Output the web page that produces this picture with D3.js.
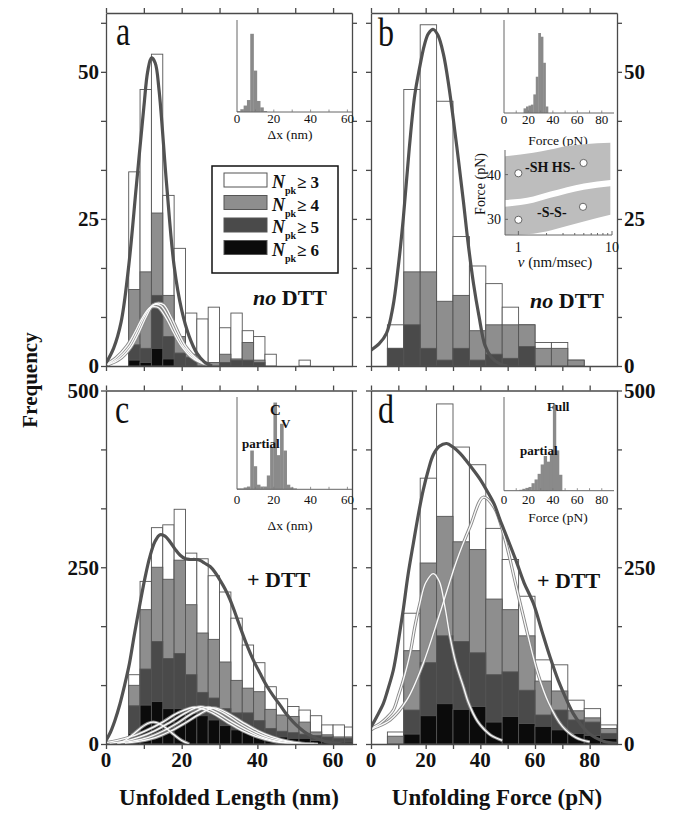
<!DOCTYPE html>
<html>
<head>
<meta charset="utf-8">
<script src="https://cdn.jsdelivr.net/npm/d3@7/dist/d3.min.js"></script>
<style>
html,body{margin:0;padding:0;background:#fff;}
svg{display:block;}
text{font-family:"Liberation Serif","Times New Roman",Times,serif;fill:#111;}
</style>
</head>
<body>
<svg id="chart" width="676" height="816" font-family="Liberation Serif, Times New Roman, serif"></svg>
<script>
// ================= DATA =================
// Panel a : unfolded length, no DTT (3-nm bins, left edges)
const lengthBinsA = [6, 9, 12, 15, 18, 21, 24, 27, 30, 33, 36, 39, 42, 45, 48, 51];
const npk3A = [33, 47, 53, 29, 20, 9, 8, 10, 6.5, 9, 6, 5, 2, 0, 0, 1];
const npk4A = [13, 16, 26, 12, 5, 2, 0.6, 0.6, 2, 1.2, 4, 1, 0, 0, 0, 0];
const npk5A = [3.6, 3, 12, 5, 2.2, 1.5, 0, 0, 0.6, 1, 1, 0.6, 0, 0, 0, 0];
const npk6A = [1, 0.6, 3, 1.2, 0, 0, 0, 0, 0, 0, 0, 0, 0, 0, 0, 0];
const fitA = [[0,0.5],[2,3],[4,7.5],[6,17],[8,30.5],[10,44],[11,50],[12,52.4],[13,51.5],[14,47],[16,31],[18,17],[20,9.5],[22,5],[24,2.2],[26,0.7],[28,0]];
const fitA1 = [[0,0.2],[3,1.2],[6,3.2],[8,5.5],[10,8.2],[12,10.2],[13.3,10.5],[14.6,10.2],[16.6,8.2],[18.6,5.5],[20.6,3.2],[23.6,1.2],[26.6,0.2]];
const fitA2 = [[0,0.3],[2.5,1.3],[5.5,3.4],[7.5,5.6],[9.5,8.1],[11.5,9.9],[12.7,10.1],[13.9,9.9],[15.9,8.1],[17.9,5.6],[19.9,3.4],[22.9,1.3],[25.9,0.3]];
const fitA3 = [[0.5,0.2],[3.5,1.1],[6.5,3.1],[8.5,5.4],[10.5,8.2],[12.5,10.4],[13.9,10.7],[15.3,10.4],[17.3,8.2],[19.3,5.4],[21.3,3.1],[24.3,1.1],[27.3,0.2]];

// Panel b : unfolding force, no DTT (6-pN bins)
const forceBinsB = [6, 12, 18, 24, 30, 36, 42, 48, 54, 60, 66, 72];
const npk3B = [7, 47, 58, 45, 22, 17, 14, 10, 7, 4, 4, 1];
const npk4B = [3, 16, 16, 11, 12, 6, 7, 7, 7, 3, 3, 1];
const npk5B = [3, 7, 3, 1, 3, 1, 2, 1.3, 3.3, 0, 0, 0];
const npk6B = [0, 0, 0, 0, 0, 0, 0, 0, 0, 0, 0, 0];
const fitB = [[0,2.7],[3,3.8],[5.7,5.6],[8,10],[10,17],[11.8,25],[14,37],[16,46],[17.7,50.5],[19.5,54.5],[21,56.5],[22.8,57.2],[24.5,56.2],[26.5,53],[28.5,47.5],[30.1,42],[32,35],[33.8,28],[35.5,21],[37.5,14],[39.5,8.5],[41.7,3.5],[44,1.5],[47,0.4],[50,0]];

// Panel c : unfolded length, + DTT
const lengthBinsC = [6, 9, 12, 15, 18, 21, 24, 27, 30, 33, 36, 39, 42, 45, 48, 51, 54, 57, 60, 63];
const npk3C = [98, 230, 306, 310, 332, 270, 262, 238, 215, 178, 140, 115, 81, 64, 53, 48, 40, 27, 27, 24];
const npk4C = [83, 190, 250, 233, 260, 197, 157, 148, 116, 90, 79, 74, 49, 41, 39, 31, 17, 13, 10, 10];
const npk5C = [54, 106, 145, 121, 128, 98, 73, 65, 50, 44, 44, 33, 22, 18, 16, 14, 12, 10, 8, 8];
const npk6C = [15, 55, 60, 50, 50, 45, 40, 34, 26, 20, 16, 14, 10, 10, 8, 8, 5, 4, 3, 3];
const fitC = [[0,5],[1.2,17],[2.4,34],[3.7,57],[5,85],[6.2,114],[7.5,155],[9,199],[10.3,235],[11.6,265],[13,287],[14.3,296],[15.6,294],[16.9,286],[18.2,276],[19.6,267],[21,262],[22.2,261],[23.5,261],[24.8,260],[26,256],[27.5,251],[28.8,243],[30.1,232],[31.5,219],[32.8,204],[34,187],[35.4,166],[37,143],[38.9,119],[40.7,100],[42.5,82],[44.2,68],[46,55],[47.7,42],[49.5,31],[51.3,22],[53,15],[54.8,10],[56.5,6],[58.3,3],[61,1],[65,0]];
const fitC0 = [[3,0],[5,5],[7,13],[9,22],[11,29],[12.5,31],[14,29],[16,22],[18,13],[20,5],[22,0]];
const fitC1 = [[0,2],[3,5],[7,11],[11,20],[15,31],[19,44],[23.5,52],[28,44],[32,31],[36,19],[40,10],[44,4],[48,1],[52,0]];
const fitC2 = [[1,1],[5,4],[9,10],[13,19],[17,31],[21,44],[25,53],[29,45],[33,32],[37,20],[41,10],[45,4],[49,1],[53,0]];
const fitC3 = [[3,1],[7,4],[11,9],[15,18],[19,30],[23,44],[27,52],[31,44],[35,30],[39,18],[43,9],[47,4],[51,1],[55,0]];
const fitC4 = [[5,1],[9,4],[13,9],[17,18],[21,30],[25,43],[28.5,51],[32,44],[36,31],[40,19],[44,10],[48,4],[52,1],[56,0]];

// Panel d : unfolding force, + DTT
const forceBinsD = [6, 12, 18, 24, 30, 36, 42, 48, 54, 60, 66, 72, 78, 84];
const npk3D = [17, 185, 376, 481, 420, 395, 305, 261, 209, 119, 112, 62, 50, 27];
const npk4D = [11, 132, 256, 322, 286, 275, 205, 190, 153, 89, 75, 47, 37, 22];
const npk5D = [0, 48, 115, 153, 145, 129, 98, 102, 76, 41, 48, 34, 31, 15];
const npk6D = [0, 14, 40, 57, 49, 53, 31, 39, 29, 25, 20, 15, 12, 8];
const fitD = [[0,24],[2,38],[4.5,57],[6,75],[8.2,105],[10,145],[11.8,190],[13.5,238],[15.5,284],[17.3,324],[19.1,359],[21,388],[22.8,409],[25,421],[27.7,425],[30,420],[32.6,411],[35,400],[37.4,388],[40,374],[42.3,359],[45,340],[47.2,317],[50,290],[53,260],[56,228],[59.4,199],[62.5,160],[65.5,123],[68.5,90],[71.6,62],[74,43],[76.5,29],[80,14],[85,4],[90,1]];
const fitDpartial = [[0,22],[3.3,29],[6,38],[8.2,48],[10,68],[11.8,90],[14.3,128],[16,165],[17.9,199],[20,228],[22.8,241],[25,230],[27,195],[28.9,152],[31,115],[33.8,81],[35.5,60],[37.4,43],[39,32],[41.1,22],[44,12],[48,5]];
const fitDfull = [[0,20],[0.9,22],[7,34],[13.1,62],[19.1,114],[25.2,185],[31.4,260],[36.2,307],[41.1,349],[45,335],[49,290],[53,225],[57,160],[61,100],[65,58],[70,25],[75,9],[80,3]];

// Insets: Δx histograms (1.8-nm bins), force histograms, relative heights (%)
const insetDxBinsA = [0, 1.8, 3.6, 5.4, 7.2, 9.0, 10.8, 12.6, 14.4];
const insetDxA = [1, 3, 7, 13, 85, 45, 12, 5, 1];
const insetDxBinsC = [0, 1.8, 3.6, 5.4, 7.2, 9.0, 10.8, 12.6, 14.4, 16.2, 18.0, 19.8, 21.6, 23.4, 25.2, 27.0, 28.8, 30.6];
const insetDxC = [1, 1, 2, 3, 42, 25, 5, 3, 3, 15, 46, 94, 37, 71, 42, 5, 2, 1];
const insetFBinsB = [16, 18, 20, 22, 24, 26, 28, 30, 32, 34];
const insetFB = [5, 7, 8, 9, 20, 39, 86, 82, 54, 7];
const insetFBinsD = [12.5, 15, 17.5, 20, 22.5, 25, 27.5, 30, 32.5, 35, 37.5, 40, 42.5, 45];
const insetFD = [1, 2, 3, 4, 8, 12, 18, 28, 37, 31, 40, 92, 43, 17];

// Inset: force vs pulling speed
const shhsV = [1, 4.97], shhsF = [40.3, 42.6];
const ssV = [1, 4.9], ssF = [29.9, 32.8];
const bandV = [0.72, 1.44, 2.2, 3.3, 5, 9.6];
const bandUpperHi = [44.1, 44.9, 45.6, 46.4, 46.8, 47.1];
const bandUpperLo = [34.3, 35.1, 36.2, 37.2, 38.0, 38.8];
const bandLowerHi = [32.8, 33.7, 34.8, 35.8, 36.6, 37.4];
const bandLowerLo = [26.5, 26.8, 27.5, 28.5, 29.5, 31.0];

// Tick labels
const yTicksTop = [0, 25/3, 50/3, 25, 100/3, 125/3, 50, 175/3];
const yLabelsTop = [0, 25, 50];
const yTicksBot = [0, 500/6, 1000/6, 250, 2000/6, 2500/6, 500];
const yLabelsBot = [0, 250, 500];
const xTicksLen = [0, 10, 20, 30, 40, 50, 60];
const xLabelsLen = [0, 20, 40, 60];
const xTicksF = [0, 10, 20, 30, 40, 50, 60, 70, 80];
const xLabelsF = [0, 20, 40, 60, 80];
const insetTicksLen = [0, 20, 40, 60];
const insetTicksF = [0, 20, 40, 60, 80];
const legendLabels = ["3", "4", "5", "6"];

// ================= DRAWING =================
const svg = d3.select("#chart");
const FILLS = ["#ffffff", "#8e8e8e", "#4a4a4a", "#0b0b0b"];
const AX = "#4a4a4a";

const xLen = d3.scaleLinear().domain([0, 65]).range([106, 352]);
const xF = d3.scaleLinear().domain([0, 90]).range([371, 617]);
const xLenD = d3.scaleLinear().domain([0, 65]).range([106, 352]);
const xFD = d3.scaleLinear().domain([0, 90]).range([371, 617]);
const yTop = d3.scaleLinear().domain([0, 60]).range([366, 13]);
const yBot = d3.scaleLinear().domain([0, 500]).range([744, 390.5]);

function txt(x, y, s, opt) {
  const t = svg.append("text").attr("x", x).attr("y", y).text(s);
  for (const k in (opt || {})) t.attr(k, opt[k]);
  return t;
}

function panel(o) {
  const g = svg.append("g");
  const [x0, x1] = o.x.range();
  const [yb, yt] = o.y.range();
  const cid = "clip" + o.id;
  svg.append("clipPath").attr("id", cid).append("rect")
    .attr("x", x0).attr("y", yt).attr("width", x1 - x0).attr("height", yb - yt);
  const gc = g.append("g").attr("clip-path", `url(#${cid})`);
  o.series.forEach((s, k) => {
    gc.append("g").selectAll("rect")
      .data(o.bins.map((b, i) => ({ b, v: s[i] })).filter(d => d.v > 0))
      .join("rect")
      .attr("x", d => o.x(d.b)).attr("width", d => o.x(d.b + o.binW) - o.x(d.b))
      .attr("y", d => o.y(d.v)).attr("height", d => o.y(0) - o.y(d.v))
      .attr("fill", FILLS[k]).attr("stroke", "#555").attr("stroke-width", 0.9);
  });
  const line = d3.line().x(d => o.x(d[0])).y(d => o.y(d[1])).curve(d3.curveCatmullRom.alpha(0.5));
  o.light.forEach(f => gc.append("path").attr("d", line(f)).attr("fill", "none")
    .attr("stroke", "#8a8a8a").attr("stroke-width", 3.2));
  o.light.forEach(f => gc.append("path").attr("d", line(f)).attr("fill", "none")
    .attr("stroke", "#fbfbfb").attr("stroke-width", 1.3));
  gc.append("path").attr("d", line(o.dark)).attr("fill", "none")
    .attr("stroke", "#525252").attr("stroke-width", 3.2);

  const styl = sel => { sel.selectAll("path,line").attr("stroke", AX).attr("stroke-width", 1.3); sel.selectAll("text").remove(); };
  g.append("g").attr("transform", `translate(0,${yb})`)
    .call(d3.axisBottom(o.x).tickValues(o.xTicks).tickSize(5).tickSizeOuter(0)).call(styl);
  g.append("g").attr("transform", `translate(0,${yt})`)
    .call(d3.axisTop(o.x).tickValues(o.xTicks).tickSize(5).tickSizeOuter(0)).call(styl);
  g.append("g").attr("transform", `translate(${x0},0)`)
    .call(d3.axisLeft(o.y).tickValues(o.yTicks).tickSize(5).tickSizeOuter(0)).call(styl);
  g.append("g").attr("transform", `translate(${x1},0)`)
    .call(d3.axisRight(o.y).tickValues(o.yTicks).tickSize(5).tickSizeOuter(0)).call(styl);
}

panel({ id: "a", x: xLen, y: yTop, bins: lengthBinsA, binW: 3, series: [npk3A, npk4A, npk5A, npk6A],
  light: [fitA1, fitA2, fitA3], dark: fitA, xTicks: xTicksLen, yTicks: yTicksTop });
panel({ id: "b", x: xF, y: yTop, bins: forceBinsB, binW: 6, series: [npk3B, npk4B, npk5B, npk6B],
  light: [], dark: fitB, xTicks: xTicksF, yTicks: yTicksTop });
panel({ id: "c", x: xLenD, y: yBot, bins: lengthBinsC, binW: 3, series: [npk3C, npk4C, npk5C, npk6C],
  light: [fitC0, fitC1, fitC2, fitC3, fitC4], dark: fitC, xTicks: xTicksLen, yTicks: yTicksBot });
panel({ id: "d", x: xFD, y: yBot, bins: forceBinsD, binW: 6, series: [npk3D, npk4D, npk5D, npk6D],
  light: [fitDpartial, fitDfull], dark: fitD, xTicks: xTicksF, yTicks: yTicksBot });

// ----- axis tick labels -----
const tickFont = { "font-size": 21, "font-weight": "bold" };
yLabelsTop.forEach(v => {
  txt(99, yTop(v), v, Object.assign({ "text-anchor": "end", "dy": "0.35em" }, tickFont));
  txt(624, yTop(v), v, Object.assign({ "text-anchor": "start", "dy": "0.35em" }, tickFont));
});
yLabelsBot.forEach(v => {
  txt(99, yBot(v), v, Object.assign({ "text-anchor": "end", "dy": "0.35em" }, tickFont));
  txt(624, yBot(v), v, Object.assign({ "text-anchor": "start", "dy": "0.35em" }, tickFont));
});
xLabelsLen.forEach(v => txt(xLenD(v), 767, v, Object.assign({ "text-anchor": "middle" }, tickFont)));
xLabelsF.forEach(v => txt(xFD(v), 767, v, Object.assign({ "text-anchor": "middle" }, tickFont)));

txt(229, 805, "Unfolded Length (nm)", { "text-anchor": "middle", "font-size": 23, "font-weight": "bold" });
txt(497, 805, "Unfolding Force (pN)", { "text-anchor": "middle", "font-size": 23, "font-weight": "bold" });
svg.append("text").attr("transform", "translate(37,380) rotate(-90)")
  .attr("text-anchor", "middle").attr("font-size", 21).attr("font-weight", "bold").text("Frequency");

// ----- panel letters -----
[["a", 116, 45], ["b", 378, 46], ["c", 115, 423], ["d", 378, 423]].forEach(([s, x, y]) => {
  svg.append("text").attr("transform", `translate(${x},${y}) scale(1,1.25)`)
    .attr("font-size", 32).text(s);
});

// ----- condition labels -----
function condLabel(x, y, italicPart, rest) {
  const t = svg.append("text").attr("x", x).attr("y", y).attr("font-size", 22).attr("font-weight", "bold");
  if (italicPart) t.append("tspan").attr("font-style", "italic").text(italicPart + " ");
  t.append("tspan").text(rest);
}
condLabel(253, 305, "no", "DTT");
condLabel(530, 308, "no", "DTT");
condLabel(247, 587, null, "+ DTT");
condLabel(537, 588, null, "+ DTT");

// ----- legend (panel a) -----
svg.append("rect").attr("x", 212).attr("y", 166).attr("width", 126).attr("height", 107)
  .attr("fill", "#fff").attr("stroke", "#111").attr("stroke-width", 1.5);
legendLabels.forEach((lab, i) => {
  const yb = 188 + i * 22.5;
  svg.append("rect").attr("x", 224).attr("y", yb - 15).attr("width", 43).attr("height", 14)
    .attr("fill", FILLS[i]).attr("stroke", "#555").attr("stroke-width", 1);
  txt(272, yb, "N", { "font-size": 18, "font-weight": "bold", "font-style": "italic" });
  txt(285, yb + 6, "pk", { "font-size": 10, "font-weight": "bold" });
  txt(297, yb, "\u2265 " + lab, { "font-size": 17, "font-weight": "bold" });
});

// ----- histogram insets -----
function histInset(o) {
  const g = svg.append("g");
  g.selectAll("rect").data(o.bins.map((b, i) => ({ b, v: o.vals[i] }))).join("rect")
    .attr("x", d => o.x(d.b)).attr("width", d => o.x(d.b + o.w) - o.x(d.b) + 0.3)
    .attr("y", d => o.y(d.v)).attr("height", d => o.y(0) - o.y(d.v)).attr("fill", "#8a8a8a");
  const [x0, x1] = o.x.range(); const [yb, yt] = o.y.range();
  g.append("line").attr("x1", x0).attr("x2", x0).attr("y1", yt).attr("y2", yb).attr("stroke", "#666").attr("stroke-width", 1);
  g.append("line").attr("x1", x0).attr("x2", x1).attr("y1", yb).attr("y2", yb).attr("stroke", "#666").attr("stroke-width", 1);
  d3.range(10, o.x.domain()[1], 10).forEach(v => g.append("line").attr("x1", o.x(v)).attr("x2", o.x(v))
    .attr("y1", yb).attr("y2", yb - 2.5).attr("stroke", "#777").attr("stroke-width", 0.8));
  o.ticks.forEach(v => txt(o.x(v), o.tickY, v, { "text-anchor": "middle", "font-size": 13, "fill": "#222" }));
  txt(o.labelX, o.labelY, o.label, { "text-anchor": "middle", "font-size": 13.5, "fill": "#222" });
}
const inXA = d3.scaleLinear().domain([0, 62.5]).range([237, 352]);
const inXB = d3.scaleLinear().domain([0, 90]).range([504, 614]);
histInset({ x: inXA, y: d3.scaleLinear().domain([0, 100]).range([112, 20]), bins: insetDxBinsA, w: 1.8, vals: insetDxA,
  ticks: insetTicksLen, tickY: 123, label: "\u0394x (nm)", labelX: 290, labelY: 139 });
histInset({ x: inXA, y: d3.scaleLinear().domain([0, 100]).range([489.3, 397]), bins: insetDxBinsC, w: 1.8, vals: insetDxC,
  ticks: insetTicksLen, tickY: 504, label: "\u0394x (nm)", labelX: 290, labelY: 530 });
histInset({ x: inXB, y: d3.scaleLinear().domain([0, 100]).range([113, 20]), bins: insetFBinsB, w: 2, vals: insetFB,
  ticks: insetTicksF, tickY: 124, label: "Force (pN)", labelX: 558, labelY: 145 });
histInset({ x: inXB, y: d3.scaleLinear().domain([0, 100]).range([490.7, 397]), bins: insetFBinsD, w: 2.5, vals: insetFD,
  ticks: insetTicksF, tickY: 504, label: "Force (pN)", labelX: 558, labelY: 522 });

const annot = { "font-size": 13, "font-weight": "bold", "fill": "#222" };
txt(242, 448, "partial", annot);
txt(270, 415, "C", { "font-size": 15, "font-weight": "bold", "fill": "#222" });
txt(281, 428, "V", annot);
txt(547, 411, "Full", annot);
txt(520, 455, "partial", annot);

// ----- speed inset -----
const sx = d3.scaleLog().domain([0.72, 10]).range([505, 612]);
const sy = d3.scaleLinear().domain([26.5, 45.5]).range([235, 150]);
const area = (hi, lo) => d3.area().x((d, i) => sx(bandV[i])).y0((d, i) => sy(lo[i])).y1((d, i) => sy(hi[i]))
  .curve(d3.curveMonotoneX)(bandV);
svg.append("path").attr("d", area(bandUpperHi, bandUpperLo)).attr("fill", "#bdbdbd");
svg.append("path").attr("d", area(bandLowerHi, bandLowerLo)).attr("fill", "#bdbdbd");
svg.append("line").attr("x1", 505).attr("x2", 505).attr("y1", 150).attr("y2", 235).attr("stroke", "#666");
svg.append("line").attr("x1", 505).attr("x2", 612).attr("y1", 235).attr("y2", 235).attr("stroke", "#666");
[30, 40].forEach(v => {
  svg.append("line").attr("x1", 505).attr("x2", 508).attr("y1", sy(v)).attr("y2", sy(v)).attr("stroke", "#666");
  txt(501, sy(v), v, { "text-anchor": "end", "dy": "0.35em", "font-size": 14, "fill": "#222" });
});
[1, 2, 3, 4, 5, 6, 7, 8, 9, 10].forEach(v => svg.append("line").attr("x1", sx(v)).attr("x2", sx(v))
  .attr("y1", 235).attr("y2", v === 1 || v === 10 ? 231 : 233).attr("stroke", "#666"));
[1, 10].forEach(v => txt(sx(v), 252, v, { "text-anchor": "middle", "font-size": 14, "fill": "#222" }));
const vl = svg.append("text").attr("x", 555).attr("y", 267).attr("text-anchor", "middle").attr("font-size", 15).attr("fill", "#222");
vl.append("tspan").attr("font-style", "italic").text("v");
vl.append("tspan").text(" (nm/msec)");
svg.append("text").attr("transform", "translate(485,184) rotate(-90)").attr("text-anchor", "middle")
  .attr("font-size", 14).attr("fill", "#222").text("Force (pN)");
[[shhsV, shhsF], [ssV, ssF]].forEach(([vs, fs]) => {
  svg.append("g").selectAll("circle").data(vs.map((v, i) => [v, fs[i]])).join("circle")
    .attr("cx", d => sx(d[0])).attr("cy", d => sy(d[1])).attr("r", 3.6)
    .attr("fill", "#fff").attr("stroke", "#666").attr("stroke-width", 1);
});
txt(525, 172, "-SH HS-", { "font-size": 14, "font-weight": "bold", "fill": "#222" });
txt(537, 217, "-S-S-", { "font-size": 14, "font-weight": "bold", "fill": "#222" });
</script>
</body>
</html>
